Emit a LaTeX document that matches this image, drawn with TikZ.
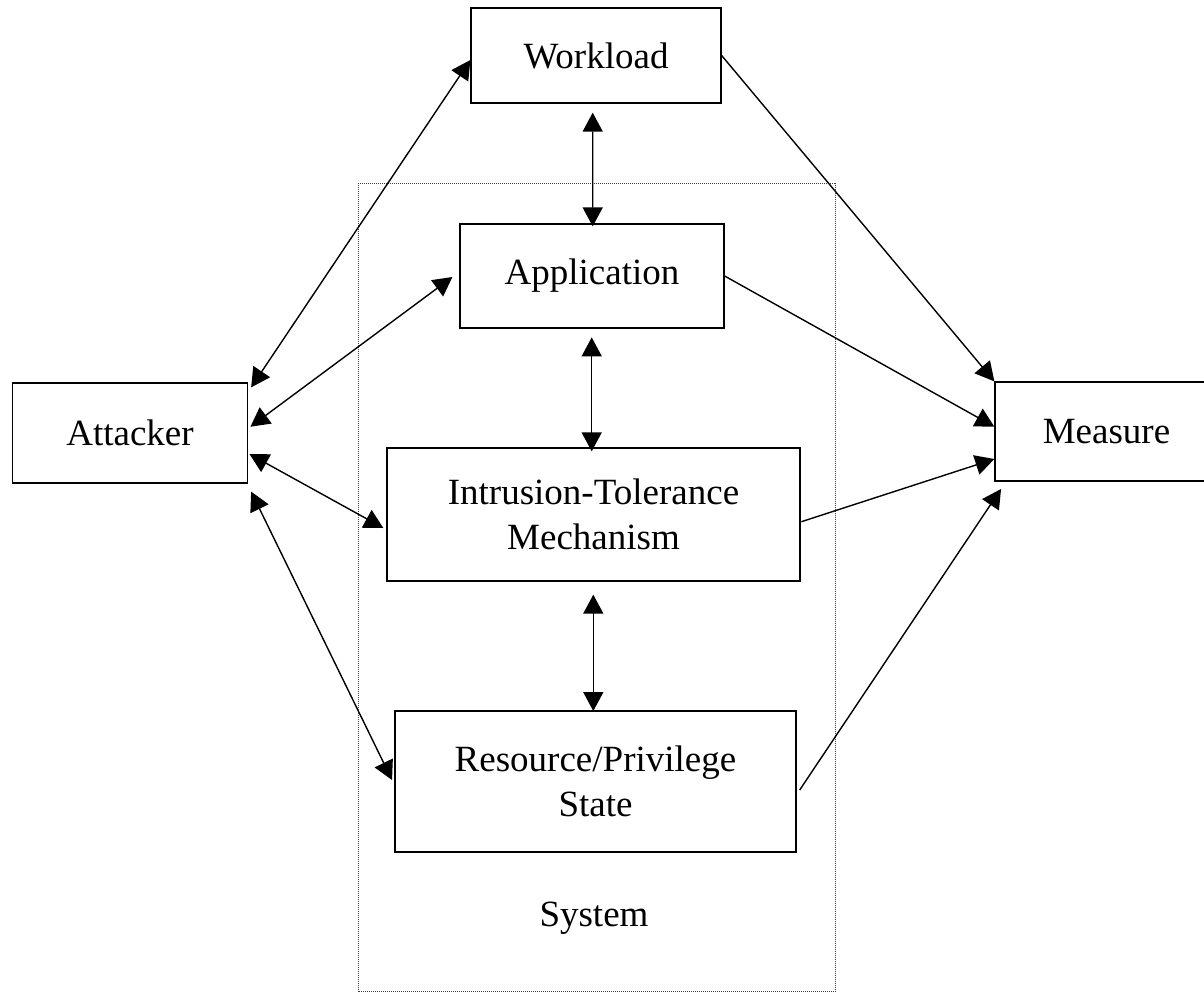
\documentclass[tikz,border=0pt]{standalone}
\usepackage{fontspec}
\setmainfont{Liberation Serif}
\usetikzlibrary{calc,arrows.meta}

\begin{document}
\begin{tikzpicture}[x=0.5pt,y=-0.5pt,
  lbl/.style={font=\fontsize{18.5}{22.5}\selectfont},
  box/.style={lbl,draw,line width=0.65pt,inner sep=0pt,align=center},
  link/.style={line width=0.7pt,>={Triangle[length=9.5pt,width=10pt]}}]
\useasboundingbox (0,0) rectangle (1204,993);

% system boundary
\draw[black!75,line width=0.5pt,dash pattern=on 0.5pt off 0.5pt] (358,183) rectangle (835.7,991.7);
\node[lbl,anchor=base] (system) at (594,926.7) {System};

\node[box,minimum width=125pt,minimum height=47.5pt] (workload) at (596,55.5) {Workload};
\node[box,minimum width=132pt,minimum height=52pt] (application) at (592,276) {Application};
\node[box,minimum width=117.5pt,minimum height=50pt] (attacker) at (130,433) {Attacker};
\node[box,minimum width=111.5pt,minimum height=49.5pt] (measure) at (1106.5,431.5) {Measure};
\node[box,minimum width=206.5pt,minimum height=66.5pt] (itm) at (593.5,514.5) {Intrusion-Tolerance\\Mechanism};
\node[box,minimum width=200.5pt,minimum height=70.5pt] (resource) at (595.5,781.5) {Resource/Privilege\\State};

\draw[link,<->] ($(attacker.north east)+(3,5)$) -- ($(workload.west)+(0,4.5)$);
\draw[link,<->] ($(attacker.east)+(2.3,-6.3)$) -- ($(application.west)+(-7,1)$);
\draw[link,<->] ($(attacker.east)+(1.3,21)$) -- ($(itm.west)+(-3,13.5)$);
\draw[link,<->] ($(attacker.south east)+(3,8)$) -- ($(resource.west)+(-2.3,-1.5)$);

\draw[link,<->] ($(workload.south)+(-3.3,9)$) -- ($(application.north)+(0.7,3)$);
\draw[link,<->] ($(application.south)+(-0.3,8.7)$) -- ($(itm.north)+(-1.8,4)$);
\draw[link,<->] ($(itm.south)+(-0.2,13)$) -- ($(resource.north)+(-2.2,0.7)$);

\draw[link,->] (workload.east) -- (measure.north west);
\draw[link,->] (application.east) -- ($(measure.west)+(0,-4.8)$);
\draw[link,->] ($(itm.east)+(0.7,7.2)$) -- ($(measure.west)+(0,27.5)$);
\draw[link,->] ($(resource.east)+(3,8.5)$) -- ($(measure.south west)+(6.7,7.3)$);
\end{tikzpicture}
\end{document}
